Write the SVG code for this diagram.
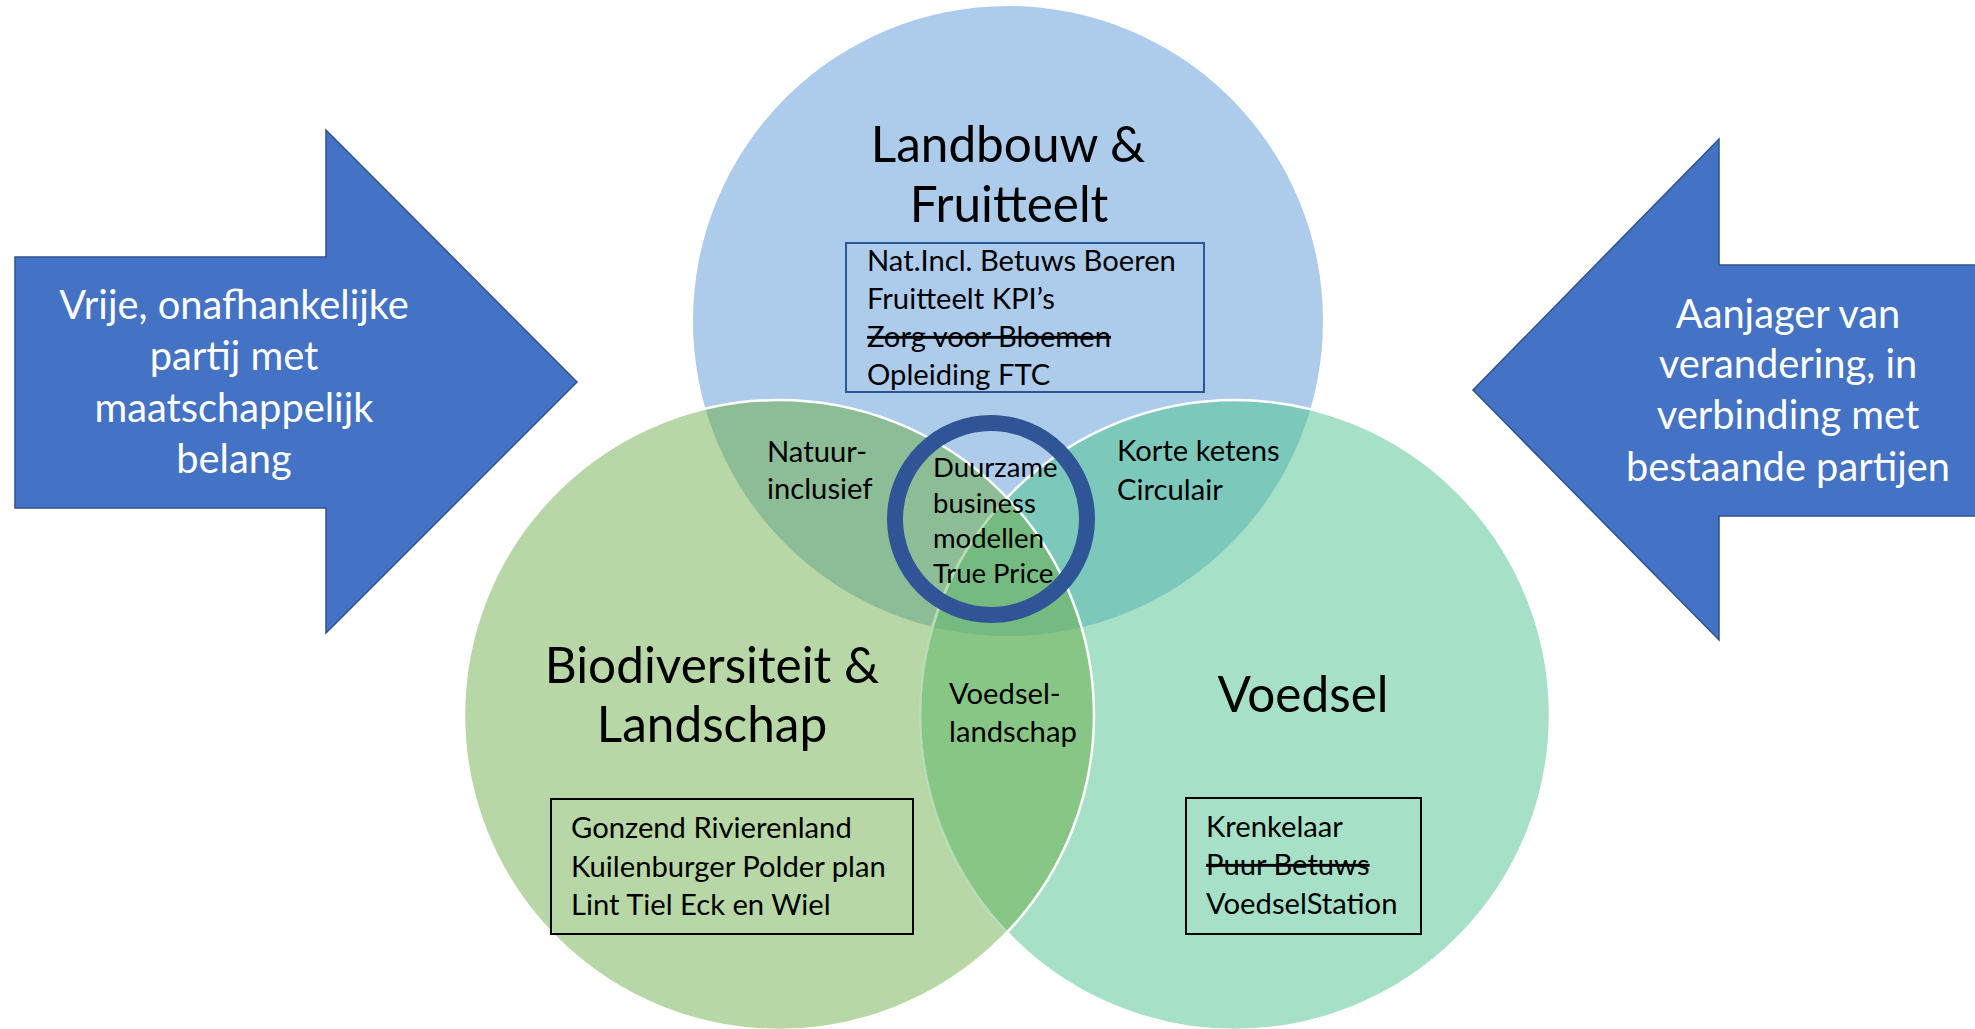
<svg xmlns="http://www.w3.org/2000/svg" width="1975" height="1029" viewBox="0 0 1975 1029">
<style>
  text { font-family: Lato, "Open Sans", sans-serif; fill: #000; }
  .big { font-size: 49.5px; text-anchor: middle; }
  .arr { font-size: 39.8px; fill: #fff; text-anchor: middle; }
  .sm { font-size: 29.2px; }
  .ctr { font-size: 27.5px; }
  .strike { text-decoration: line-through; }
  .arrow { fill: #4472C4; stroke: #2F528F; stroke-width: 1.5; }
  .box { fill: none; stroke-width: 2; }
</style>
<defs>
  <clipPath id="cTop"><circle cx="1008" cy="321" r="315"/></clipPath>
  <clipPath id="cLeft"><circle cx="779" cy="715" r="315"/></clipPath>
  <clipPath id="cRight"><circle cx="1235" cy="715" r="315"/></clipPath>
</defs>
<rect width="1975" height="1029" fill="#fff"/>

<g id="circles">
  <circle id="c-top" cx="1008" cy="321" r="315" fill="#ADCBEA"/>
  <circle id="c-right" cx="1235" cy="715" r="315" fill="#A6E1C7"/>
  <circle id="c-left" cx="779" cy="715" r="315" fill="#B8D7A6"/>
  <circle cx="1235" cy="715" r="315" fill="#7CC9BC" clip-path="url(#cTop)"/>
  <circle cx="779" cy="715" r="315" fill="#8DBD96" clip-path="url(#cTop)"/>
  <circle cx="779" cy="715" r="315" fill="#88C686" clip-path="url(#cRight)"/>
  <g clip-path="url(#cTop)">
    <circle cx="779" cy="715" r="315" fill="#75BA80" clip-path="url(#cRight)"/>
  </g>
  <circle cx="1235" cy="715" r="315" fill="none" stroke="#fff" stroke-width="2.5"/>
  <circle cx="1235" cy="715" r="315" fill="none" stroke="#88C686" stroke-width="3" opacity="0.6" clip-path="url(#cLeft)"/>
  <circle cx="779" cy="715" r="315" fill="none" stroke="#fff" stroke-width="2.5"/>
</g>

<g id="arrow-left">
  <polygon class="arrow" points="15,257 326,257 326,130 577,382 326,633 326,508 15,508"/>
  <text class="arr" x="234" y="319">Vrije, onafhankelijke</text>
  <text class="arr" x="234" y="370">partij met</text>
  <text class="arr" x="234" y="422">maatschappelijk</text>
  <text class="arr" x="234" y="473">belang</text>
</g>

<g id="arrow-right">
  <polygon class="arrow" points="1985,265 1719,265 1719,139 1473,390 1719,640 1719,516 1985,516"/>
  <text class="arr" x="1788" y="328">Aanjager van</text>
  <text class="arr" x="1788" y="378">verandering, in</text>
  <text class="arr" x="1788" y="429">verbinding met</text>
  <text class="arr" x="1788" y="481">bestaande partijen</text>
</g>

<g id="node-landbouw">
  <text class="big" x="1008" y="162">Landbouw &amp;</text>
  <text class="big" x="1009" y="222">Fruitteelt</text>
  <rect class="box" x="846" y="243" width="358" height="149" stroke="#2F5597"/>
  <text class="sm" x="867" y="271">Nat.Incl. Betuws Boeren</text>
  <text class="sm" x="867" y="309">Fruitteelt KPI’s</text>
  <text class="sm strike" x="867" y="347">Zorg voor Bloemen</text>
  <text class="sm" x="867" y="385">Opleiding FTC</text>
</g>

<g id="node-biodiversiteit">
  <text class="big" x="712" y="683">Biodiversiteit &amp;</text>
  <text class="big" x="712" y="742">Landschap</text>
  <rect class="box" x="551" y="799" width="362" height="135" stroke="#000"/>
  <text class="sm" x="571" y="838">Gonzend Rivierenland</text>
  <text class="sm" x="571" y="877">Kuilenburger Polder plan</text>
  <text class="sm" x="571" y="915">Lint Tiel Eck en Wiel</text>
</g>

<g id="node-voedsel">
  <text class="big" x="1303" y="712">Voedsel</text>
  <rect class="box" x="1186" y="798" width="235" height="136" stroke="#000"/>
  <text class="sm" x="1206" y="837">Krenkelaar</text>
  <text class="sm strike" x="1206" y="875">Puur Betuws</text>
  <text class="sm" x="1206" y="914">VoedselStation</text>
</g>

<g id="overlaps">
  <text class="sm" x="767" y="462">Natuur-</text>
  <text class="sm" x="767" y="499">inclusief</text>
  <text class="sm" x="1117" y="461">Korte ketens</text>
  <text class="sm" x="1117" y="500">Circulair</text>
  <text class="sm" x="949" y="704">Voedsel-</text>
  <text class="sm" x="949" y="742">landschap</text>
</g>

<g id="node-center">
  <circle cx="991" cy="519" r="96" fill="none" stroke="#2F5597" stroke-width="16"/>
  <text class="ctr" x="933" y="477">Duurzame</text>
  <text class="ctr" x="933" y="513">business</text>
  <text class="ctr" x="933" y="548">modellen</text>
  <text class="ctr" x="933" y="583">True Price</text>
</g>
</svg>
